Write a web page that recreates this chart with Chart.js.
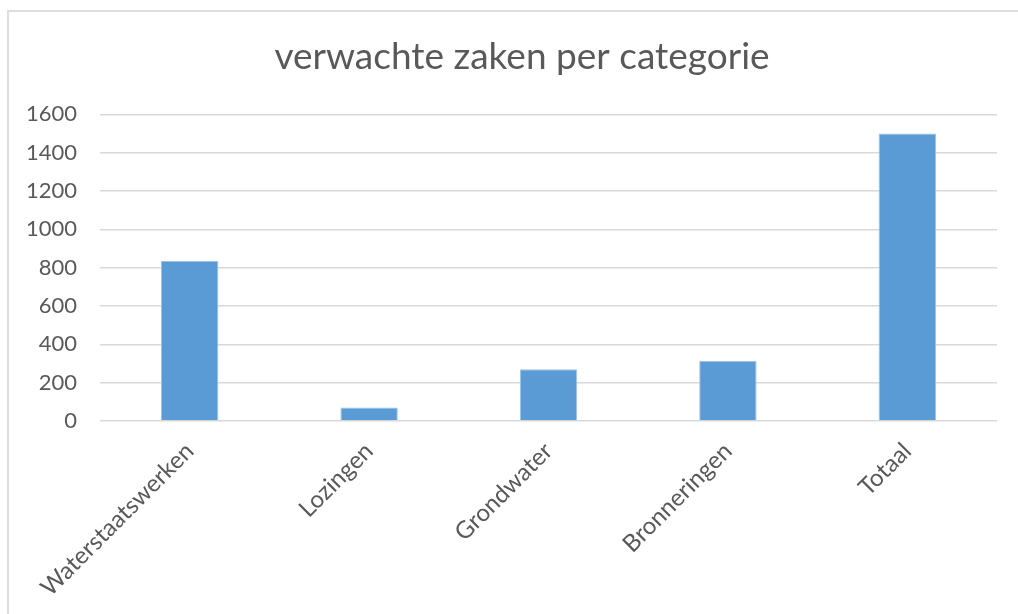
<!DOCTYPE html>
<html>
<head>
<meta charset="utf-8">
<script src="https://cdn.jsdelivr.net/npm/chart.js@4"></script>
<style>
  html, body { margin: 0; padding: 0; background: #fff; }
  #wrap { position: relative; width: 1018px; height: 614px; }
  #frame {
    position: absolute; left: 7px; top: 10px; right: -2px; bottom: -2px;
    border-left: 2px solid #dedede; border-top: 2px solid #dedede;
    pointer-events: none;
  }
</style>
</head>
<body>
<div id="wrap">
  <canvas id="chart" width="1018" height="614"></canvas>
  <div id="frame"></div>
</div>
<script>
const categories = ['Waterstaatswerken', 'Lozingen', 'Grondwater', 'Bronneringen', 'Totaal'];
const expectedCases = [835, 70, 270, 315, 1500];
const chartTitle = 'verwachte zaken per categorie';

const textGrey = '#595959';
const gridGrey = '#d9d9d9';
const barBlue = '#5b9bd5';

// the original centres its title a bit right of the canvas middle
const nudgeTitle = {
  id: 'nudgeTitle',
  afterLayout(chart) {
    if (chart.titleBlock) chart.titleBlock.left = 47;
  },
};

function initChart() {
  const ctx = document.getElementById('chart');
  if (!ctx || typeof Chart === 'undefined') return;

  new Chart(ctx, {
    type: 'bar',
    data: {
      labels: categories,
      datasets: [{
        label: chartTitle,
        data: expectedCases,
        backgroundColor: barBlue,
        borderColor: '#9dc3e6',
        borderWidth: 1,
        barPercentage: 0.32,
        categoryPercentage: 1,
      }],
    },
    options: {
      responsive: false,
      animation: false,
      layout: { padding: { left: 0, right: 21, top: 0, bottom: 0 } },
      plugins: {
        legend: { display: false },
        tooltip: { enabled: false },
        title: {
          display: true,
          text: chartTitle,
          color: textGrey,
          font: { family: 'Lato', size: 37, weight: 'normal' },
          padding: { top: 35, bottom: 35 },
        },
      },
      scales: {
        x: {
          grid: { display: false },
          border: { display: false },
          ticks: {
            color: textGrey,
            font: { family: 'Lato', size: 24 },
            maxRotation: 45,
            minRotation: 45,
            padding: 8,
          },
          afterFit: (scale) => { scale.height = 193; },
        },
        y: {
          min: 0,
          max: 1600,
          grid: { color: gridGrey, lineWidth: 1.5, drawTicks: false },
          border: { display: false },
          ticks: {
            stepSize: 200,
            color: textGrey,
            font: { family: 'Lato', size: 22 },
            padding: 23,
            callback: (value) => String(value),
          },
          afterFit: (scale) => { scale.width = 100; },
        },
      },
    },
    plugins: [nudgeTitle],
  });
}

window.addEventListener('DOMContentLoaded', () => {
  initChart();
});
</script>
</body>
</html>
